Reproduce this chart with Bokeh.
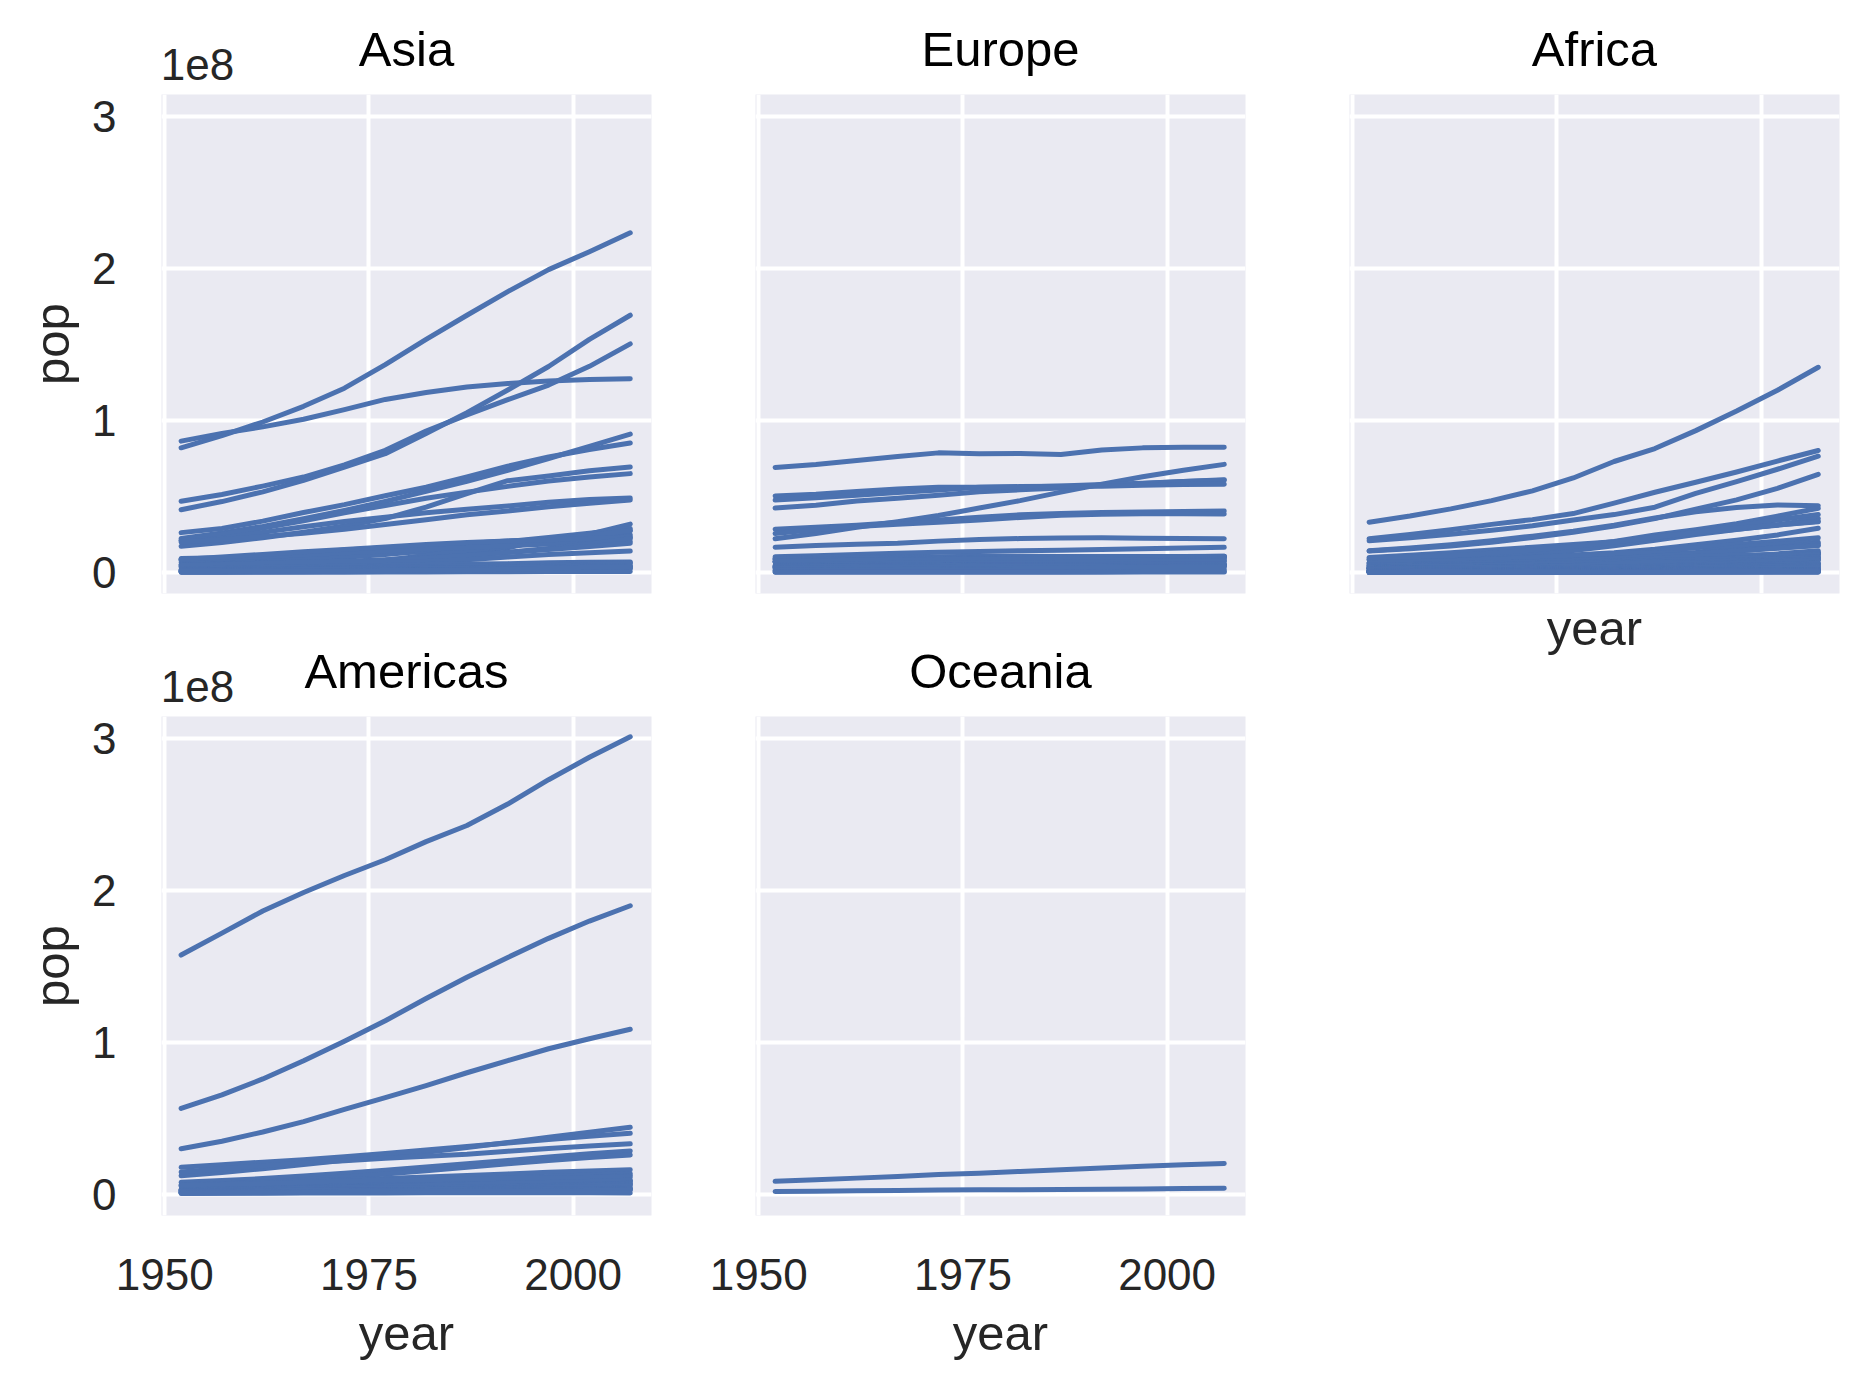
from bokeh.plotting import figure
from bokeh.models import LinearAxis, FixedTicker, ColumnDataSource
from bokeh.layouts import row, column
from bokeh.embed import file_html
from bokeh.resources import INLINE

# ---------------- data (population in millions) ----------------
years = [1952, 1957, 1962, 1967, 1972, 1977, 1982, 1987, 1992, 1997, 2002, 2007]

asia = {
    "Indonesia": [82.05, 90.12, 99.03, 109.34, 121.28, 136.73, 153.34, 169.28, 184.82, 199.28, 211.06, 223.55],
    "Japan": [86.46, 91.56, 95.83, 100.83, 107.19, 113.87, 118.45, 122.09, 124.33, 125.96, 127.07, 127.47],
    "Pakistan": [41.35, 46.68, 53.10, 60.64, 69.33, 78.15, 91.46, 105.19, 120.07, 135.56, 153.40, 169.27],
    "Bangladesh": [46.89, 51.37, 56.84, 62.82, 70.76, 80.43, 93.07, 103.76, 113.70, 123.32, 135.66, 150.45],
    "Philippines": [22.44, 26.07, 30.33, 35.36, 40.85, 46.85, 53.46, 60.02, 67.19, 75.01, 82.99, 91.08],
    "Vietnam": [26.25, 28.99, 33.80, 39.46, 44.66, 50.53, 56.14, 62.83, 69.94, 76.05, 80.91, 85.26],
    "Iran": [17.27, 19.79, 22.87, 26.54, 30.61, 35.48, 43.07, 51.89, 60.40, 63.46, 66.91, 69.45],
    "Thailand": [21.29, 25.04, 29.26, 34.02, 39.28, 44.15, 48.83, 52.91, 56.67, 60.22, 62.81, 65.07],
    "Korea, Rep.": [20.95, 22.61, 26.42, 30.13, 33.51, 36.44, 39.33, 41.62, 43.81, 46.17, 47.97, 49.04],
    "Myanmar": [20.09, 21.73, 23.63, 25.87, 28.47, 31.53, 34.68, 38.03, 40.55, 43.25, 45.60, 47.76],
    "Korea, Dem. Rep.": [8.87, 9.41, 10.92, 12.62, 14.78, 16.33, 17.65, 19.07, 20.71, 21.59, 22.22, 23.30],
    "Afghanistan": [8.43, 9.24, 10.27, 11.54, 13.08, 14.88, 12.88, 13.87, 16.32, 22.23, 25.27, 31.89],
    "Nepal": [9.18, 9.68, 10.33, 11.26, 12.41, 13.93, 15.80, 17.92, 20.33, 23.00, 25.87, 28.90],
    "Malaysia": [6.75, 7.74, 8.91, 10.15, 11.44, 12.85, 14.44, 16.33, 18.32, 20.48, 22.66, 24.82],
    "Iraq": [5.44, 6.25, 7.24, 8.52, 10.06, 11.88, 14.17, 16.54, 17.86, 20.78, 24.00, 27.50],
    "Saudi Arabia": [4.01, 4.42, 4.94, 5.62, 6.47, 8.13, 11.25, 14.62, 16.95, 21.23, 24.50, 27.60],
    "Sri Lanka": [7.98, 9.13, 10.42, 11.74, 13.02, 14.12, 15.41, 16.50, 17.59, 18.70, 19.58, 20.38],
    "Taiwan": [8.55, 10.16, 11.92, 13.65, 15.23, 16.79, 18.50, 19.76, 20.69, 21.63, 22.45, 23.17],
    "Yemen, Rep.": [4.96, 5.50, 6.12, 6.74, 7.41, 8.40, 9.66, 11.22, 13.37, 15.83, 18.70, 22.21],
    "Syria": [3.66, 4.15, 4.83, 5.68, 6.70, 7.93, 9.41, 11.24, 13.22, 15.08, 17.16, 19.31],
    "Cambodia": [4.69, 5.32, 6.08, 6.96, 7.45, 6.98, 7.27, 8.37, 10.15, 11.78, 12.93, 14.13],
    "Hong Kong": [2.13, 2.74, 3.31, 3.72, 4.12, 4.58, 5.26, 5.58, 5.83, 6.50, 6.76, 6.98],
    "Israel": [1.62, 1.94, 2.31, 2.69, 3.10, 3.50, 3.86, 4.17, 4.94, 5.53, 6.03, 6.43],
    "Jordan": [0.61, 0.75, 0.93, 1.26, 1.61, 1.94, 2.35, 2.82, 3.87, 4.53, 5.31, 6.05],
    "Lebanon": [1.44, 1.65, 1.89, 2.19, 2.68, 3.12, 3.09, 3.00, 3.22, 3.43, 3.68, 3.92],
    "Singapore": [1.13, 1.45, 1.75, 1.98, 2.15, 2.33, 2.65, 2.79, 3.24, 3.80, 4.20, 4.55],
    "Mongolia": [0.80, 0.88, 1.01, 1.15, 1.32, 1.53, 1.76, 2.02, 2.31, 2.49, 2.67, 2.87],
    "Kuwait": [0.16, 0.21, 0.36, 0.57, 0.84, 1.14, 1.50, 1.89, 1.42, 1.77, 2.11, 2.51],
    "Oman": [0.51, 0.56, 0.63, 0.71, 0.83, 1.00, 1.30, 1.59, 1.92, 2.28, 2.71, 3.20],
    "Bahrain": [0.12, 0.14, 0.17, 0.20, 0.23, 0.30, 0.38, 0.45, 0.53, 0.60, 0.66, 0.71],
    "West Bank and Gaza": [1.03, 1.07, 1.13, 1.14, 1.09, 1.26, 1.43, 1.69, 2.10, 2.83, 3.39, 4.02],
}

europe = {
    "Germany": [69.15, 71.02, 73.74, 76.37, 78.72, 78.16, 78.34, 77.72, 80.60, 82.01, 82.35, 82.40],
    "Turkey": [22.24, 25.67, 29.79, 33.41, 37.49, 42.40, 47.33, 52.88, 58.18, 63.05, 67.31, 71.16],
    "France": [42.46, 44.31, 47.12, 48.90, 50.84, 53.17, 54.43, 55.63, 57.37, 58.62, 59.93, 61.08],
    "United Kingdom": [50.43, 51.43, 53.29, 54.96, 56.08, 56.18, 56.34, 56.98, 57.87, 58.81, 59.91, 60.78],
    "Italy": [47.67, 49.18, 50.84, 52.67, 54.37, 56.06, 56.54, 56.73, 56.84, 57.48, 57.93, 58.15],
    "Spain": [28.55, 29.84, 31.16, 32.85, 34.51, 36.44, 37.98, 38.88, 39.55, 39.86, 40.15, 40.45],
    "Poland": [25.73, 28.24, 30.33, 31.79, 33.04, 34.62, 36.23, 37.74, 38.37, 38.65, 38.63, 38.52],
    "Romania": [16.63, 17.83, 18.68, 19.28, 20.66, 21.66, 22.36, 22.69, 22.80, 22.56, 22.40, 22.28],
    "Netherlands": [10.38, 11.03, 11.81, 12.60, 13.33, 13.85, 14.31, 14.67, 15.17, 15.60, 16.12, 16.57],
    "Czech Republic": [9.13, 9.51, 9.62, 9.84, 9.86, 10.16, 10.30, 10.31, 10.32, 10.30, 10.26, 10.23],
    "Hungary": [9.50, 9.84, 10.06, 10.22, 10.39, 10.64, 10.71, 10.61, 10.35, 10.24, 10.08, 9.96],
    "Portugal": [8.53, 8.82, 9.02, 9.10, 8.97, 9.66, 9.86, 9.92, 9.93, 10.16, 10.43, 10.64],
    "Belgium": [8.73, 8.99, 9.22, 9.56, 9.71, 9.82, 9.86, 9.87, 10.05, 10.20, 10.31, 10.39],
    "Greece": [7.73, 8.10, 8.45, 8.72, 8.89, 9.31, 9.79, 9.97, 10.33, 10.50, 10.60, 10.71],
    "Serbia": [6.86, 7.27, 7.62, 7.97, 8.31, 8.69, 9.03, 9.23, 9.83, 10.34, 10.11, 10.15],
    "Sweden": [7.12, 7.36, 7.56, 7.87, 8.12, 8.25, 8.33, 8.42, 8.72, 8.90, 8.95, 9.03],
    "Austria": [6.93, 6.97, 7.13, 7.38, 7.54, 7.57, 7.57, 7.58, 7.91, 8.07, 8.15, 8.20],
    "Bulgaria": [7.27, 7.65, 8.01, 8.31, 8.58, 8.80, 8.89, 8.97, 8.66, 8.07, 7.66, 7.32],
    "Switzerland": [4.82, 5.13, 5.67, 6.06, 6.40, 6.32, 6.47, 6.65, 6.99, 7.19, 7.36, 7.55],
    "Denmark": [4.33, 4.49, 4.65, 4.84, 4.99, 5.09, 5.12, 5.13, 5.17, 5.28, 5.37, 5.47],
    "Slovak Republic": [3.56, 3.84, 4.24, 4.44, 4.59, 4.83, 4.99, 5.04, 5.26, 5.38, 5.41, 5.45],
    "Finland": [4.09, 4.32, 4.49, 4.61, 4.64, 4.74, 4.83, 4.93, 5.04, 5.13, 5.19, 5.24],
    "Norway": [3.33, 3.49, 3.64, 3.79, 3.93, 4.04, 4.11, 4.19, 4.29, 4.41, 4.54, 4.63],
    "Croatia": [3.88, 3.99, 4.08, 4.17, 4.23, 4.32, 4.41, 4.48, 4.49, 4.44, 4.48, 4.49],
    "Ireland": [2.95, 2.88, 2.83, 2.90, 3.02, 3.27, 3.48, 3.54, 3.56, 3.67, 3.88, 4.11],
    "Bosnia and Herzegovina": [2.79, 3.08, 3.35, 3.59, 3.82, 4.09, 4.17, 4.31, 4.26, 3.61, 4.17, 4.55],
    "Albania": [1.28, 1.48, 1.73, 1.98, 2.26, 2.51, 2.78, 3.08, 3.33, 3.43, 3.51, 3.60],
    "Slovenia": [1.49, 1.53, 1.58, 1.65, 1.74, 1.86, 1.95, 1.99, 2.00, 2.01, 2.01, 2.01],
    "Montenegro": [0.41, 0.44, 0.47, 0.50, 0.53, 0.56, 0.56, 0.57, 0.62, 0.64, 0.72, 0.68],
    "Iceland": [0.15, 0.17, 0.18, 0.20, 0.21, 0.22, 0.23, 0.24, 0.26, 0.27, 0.29, 0.30],
}

africa = {
    "Nigeria": [33.12, 37.17, 41.87, 47.29, 53.74, 62.21, 73.04, 81.55, 93.36, 106.21, 119.90, 135.03],
    "Egypt": [22.22, 25.01, 28.17, 31.68, 34.81, 38.78, 45.68, 52.80, 59.40, 66.13, 73.31, 80.26],
    "Ethiopia": [20.86, 22.82, 25.15, 27.86, 30.77, 34.62, 38.11, 42.99, 52.09, 59.86, 67.95, 76.51],
    "Congo, Dem. Rep.": [14.10, 15.58, 17.49, 19.94, 23.01, 26.48, 30.65, 35.48, 41.67, 47.80, 55.38, 64.61],
    "South Africa": [14.26, 16.15, 18.36, 20.99, 23.94, 27.13, 31.14, 35.93, 39.96, 42.84, 44.43, 43.99],
    "Sudan": [8.50, 9.75, 11.18, 12.72, 14.60, 17.10, 20.37, 24.73, 28.23, 32.16, 37.09, 42.29],
    "Tanzania": [8.32, 9.45, 10.86, 12.61, 14.71, 17.13, 19.84, 23.04, 26.61, 30.69, 34.59, 38.14],
    "Kenya": [6.46, 7.45, 8.68, 10.19, 12.04, 14.50, 17.66, 21.20, 25.02, 28.26, 31.39, 35.61],
    "Morocco": [9.94, 11.41, 13.06, 14.77, 16.66, 18.40, 20.20, 22.99, 25.80, 28.53, 31.17, 33.76],
    "Algeria": [9.28, 10.27, 11.00, 12.76, 14.76, 17.15, 20.03, 23.25, 26.30, 29.07, 31.29, 33.33],
    "Uganda": [5.82, 6.68, 7.69, 8.90, 10.19, 11.46, 12.94, 15.28, 18.25, 21.21, 24.74, 29.17],
    "Ghana": [5.58, 6.39, 7.36, 8.49, 9.35, 10.54, 11.40, 14.17, 16.28, 18.42, 20.55, 22.87],
    "Mozambique": [6.45, 7.04, 7.79, 8.68, 9.81, 11.13, 12.59, 12.89, 13.16, 16.60, 18.47, 19.95],
    "Madagascar": [4.76, 5.18, 5.70, 6.33, 7.08, 8.01, 9.17, 10.57, 12.21, 14.17, 16.47, 19.17],
    "Cote d'Ivoire": [2.98, 3.30, 3.83, 4.74, 6.07, 7.46, 9.03, 10.76, 12.77, 14.63, 16.25, 18.01],
    "Cameroon": [5.01, 5.36, 5.79, 6.34, 7.02, 7.96, 9.25, 10.78, 12.47, 14.20, 15.93, 17.70],
    "Angola": [4.23, 4.56, 4.83, 5.25, 5.89, 6.16, 7.02, 7.87, 8.74, 9.88, 10.87, 12.42],
    "Burkina Faso": [4.47, 4.71, 4.92, 5.13, 5.43, 5.89, 6.63, 7.59, 8.88, 10.35, 12.25, 14.33],
    "Malawi": [2.92, 3.22, 3.63, 4.15, 4.73, 5.64, 6.50, 7.82, 10.01, 10.42, 11.82, 13.33],
    "Mali": [3.84, 4.03, 4.24, 4.57, 5.00, 5.48, 6.16, 7.63, 8.42, 9.38, 10.58, 12.03],
    "Niger": [3.38, 3.69, 4.08, 4.53, 5.06, 5.68, 6.44, 7.33, 8.39, 9.67, 11.14, 12.89],
    "Zimbabwe": [3.08, 3.65, 4.28, 4.99, 5.86, 6.64, 7.64, 9.22, 10.70, 11.40, 11.93, 12.31],
    "Senegal": [2.76, 3.05, 3.43, 3.97, 4.59, 5.26, 6.15, 7.17, 8.31, 9.54, 10.87, 12.27],
    "Zambia": [2.67, 3.02, 3.42, 3.90, 4.51, 5.22, 6.10, 7.27, 8.38, 9.42, 10.60, 11.75],
    "Tunisia": [3.65, 3.95, 4.29, 4.79, 5.30, 6.01, 6.73, 7.72, 8.52, 9.23, 9.77, 10.28],
    "Chad": [2.68, 2.89, 3.15, 3.50, 3.90, 4.39, 4.88, 5.49, 6.43, 7.56, 8.84, 10.24],
    "Guinea": [2.66, 2.88, 3.14, 3.45, 3.81, 4.23, 4.71, 5.65, 6.99, 8.05, 8.81, 9.95],
    "Rwanda": [2.53, 2.82, 3.05, 3.45, 3.99, 4.66, 5.51, 6.35, 7.29, 7.21, 7.85, 8.86],
    "Burundi": [2.45, 2.67, 2.96, 3.33, 3.53, 3.83, 4.58, 5.13, 5.81, 6.12, 7.02, 8.39],
    "Somalia": [2.53, 2.78, 3.08, 3.43, 3.84, 4.35, 5.83, 6.92, 6.10, 6.63, 7.75, 9.12],
    "Benin": [1.74, 1.93, 2.15, 2.43, 2.76, 3.17, 3.64, 4.24, 4.98, 6.07, 7.03, 8.08],
    "Libya": [1.02, 1.15, 1.32, 1.56, 2.03, 2.52, 3.09, 3.54, 4.36, 4.76, 5.37, 6.04],
    "Togo": [1.22, 1.36, 1.53, 1.74, 2.06, 2.31, 2.64, 3.15, 3.75, 4.32, 4.98, 5.70],
    "Sierra Leone": [2.14, 2.30, 2.47, 2.66, 2.88, 3.14, 3.46, 3.87, 4.26, 4.58, 5.36, 6.14],
    "Eritrea": [1.44, 1.54, 1.67, 1.82, 2.26, 2.51, 2.64, 2.92, 3.67, 4.06, 4.41, 4.91],
    "Central African Republic": [1.29, 1.39, 1.52, 1.73, 1.93, 2.17, 2.48, 2.84, 3.27, 3.70, 4.05, 4.37],
    "Liberia": [0.86, 0.98, 1.11, 1.28, 1.48, 1.70, 1.96, 2.27, 1.91, 2.20, 2.81, 3.19],
    "Congo, Rep.": [0.85, 0.94, 1.05, 1.18, 1.34, 1.54, 1.77, 2.06, 2.41, 2.80, 3.33, 3.80],
    "Mauritania": [1.02, 1.08, 1.15, 1.23, 1.33, 1.46, 1.62, 1.84, 2.12, 2.44, 2.83, 3.27],
    "Lesotho": [0.75, 0.81, 0.89, 0.97, 1.12, 1.25, 1.35, 1.60, 1.80, 1.98, 2.05, 2.01],
    "Namibia": [0.49, 0.56, 0.62, 0.71, 0.82, 0.98, 1.10, 1.28, 1.55, 1.77, 1.97, 2.06],
    "Botswana": [0.44, 0.47, 0.47, 0.55, 0.69, 0.78, 0.97, 1.15, 1.34, 1.54, 1.63, 1.64],
    "Gambia": [0.28, 0.32, 0.37, 0.44, 0.52, 0.61, 0.72, 0.85, 1.03, 1.24, 1.46, 1.69],
    "Guinea-Bissau": [0.58, 0.60, 0.63, 0.60, 0.63, 0.75, 0.83, 0.93, 1.05, 1.19, 1.33, 1.47],
    "Gabon": [0.42, 0.43, 0.46, 0.49, 0.54, 0.71, 0.75, 0.88, 0.99, 1.13, 1.30, 1.45],
    "Mauritius": [0.52, 0.61, 0.70, 0.79, 0.85, 0.91, 0.99, 1.04, 1.10, 1.15, 1.20, 1.25],
    "Swaziland": [0.29, 0.33, 0.37, 0.42, 0.48, 0.55, 0.65, 0.78, 0.96, 1.05, 1.13, 1.13],
    "Comoros": [0.15, 0.17, 0.19, 0.22, 0.25, 0.30, 0.35, 0.40, 0.45, 0.53, 0.61, 0.71],
    "Djibouti": [0.06, 0.07, 0.09, 0.13, 0.18, 0.23, 0.31, 0.35, 0.38, 0.42, 0.45, 0.50],
    "Equatorial Guinea": [0.22, 0.23, 0.24, 0.26, 0.28, 0.19, 0.26, 0.34, 0.39, 0.44, 0.50, 0.55],
    "Reunion": [0.26, 0.31, 0.36, 0.41, 0.46, 0.49, 0.52, 0.56, 0.62, 0.68, 0.74, 0.80],
    "Sao Tome and Principe": [0.06, 0.06, 0.07, 0.07, 0.08, 0.09, 0.10, 0.11, 0.13, 0.15, 0.17, 0.20],
}

americas = {
    "United States": [157.55, 171.98, 186.54, 198.71, 209.90, 220.24, 232.19, 242.80, 256.89, 272.91, 287.68, 301.14],
    "Brazil": [56.60, 65.55, 76.04, 88.05, 100.84, 114.31, 128.96, 142.94, 155.98, 168.55, 179.91, 190.01],
    "Mexico": [30.14, 35.02, 41.12, 47.99, 55.98, 63.76, 71.64, 80.12, 88.11, 95.90, 102.48, 108.70],
    "Colombia": [12.35, 14.49, 17.01, 19.76, 22.54, 25.09, 27.76, 30.96, 34.20, 37.66, 41.01, 44.23],
    "Argentina": [17.88, 19.61, 21.28, 22.93, 24.78, 26.98, 29.34, 31.62, 33.96, 36.20, 38.33, 40.30],
    "Canada": [14.79, 17.01, 18.99, 20.82, 22.28, 23.80, 25.20, 26.55, 28.52, 30.31, 31.90, 33.39],
    "Peru": [8.03, 9.15, 10.52, 12.13, 13.95, 15.99, 18.13, 20.20, 22.43, 24.75, 26.77, 28.67],
    "Venezuela": [5.44, 6.70, 8.14, 9.71, 11.52, 13.50, 15.62, 17.91, 20.27, 22.37, 24.29, 26.08],
    "Chile": [6.38, 7.05, 7.96, 8.86, 9.72, 10.60, 11.49, 12.46, 13.57, 14.60, 15.50, 16.28],
    "Ecuador": [3.55, 4.06, 4.68, 5.43, 6.30, 7.22, 8.37, 9.55, 10.75, 11.91, 12.92, 13.76],
    "Guatemala": [3.15, 3.64, 4.21, 4.69, 5.15, 5.70, 6.40, 7.33, 8.49, 9.80, 11.18, 12.57],
    "Cuba": [6.01, 6.64, 7.25, 8.14, 8.83, 9.54, 9.79, 10.24, 10.72, 10.98, 11.23, 11.42],
    "Bolivia": [2.88, 3.21, 3.59, 4.04, 4.57, 5.08, 5.64, 6.16, 6.89, 7.69, 8.45, 9.12],
    "Haiti": [3.20, 3.51, 3.88, 4.32, 4.70, 4.91, 5.20, 5.76, 6.33, 6.91, 7.61, 8.50],
    "Dominican Republic": [2.49, 2.92, 3.45, 4.05, 4.67, 5.30, 5.97, 6.66, 7.35, 7.99, 8.65, 9.32],
    "Honduras": [1.52, 1.77, 2.09, 2.50, 2.95, 3.06, 3.67, 4.37, 5.08, 5.87, 6.68, 7.48],
    "El Salvador": [2.04, 2.36, 2.75, 3.23, 3.79, 4.28, 4.47, 4.84, 5.27, 5.78, 6.35, 6.94],
    "Paraguay": [1.56, 1.77, 2.01, 2.29, 2.61, 2.98, 3.37, 3.89, 4.48, 5.15, 5.88, 6.67],
    "Nicaragua": [1.17, 1.36, 1.59, 1.87, 2.18, 2.55, 2.98, 3.34, 4.02, 4.61, 5.15, 5.68],
    "Costa Rica": [0.93, 1.11, 1.35, 1.59, 1.83, 2.05, 2.42, 2.80, 3.17, 3.52, 3.83, 4.13],
    "Puerto Rico": [2.23, 2.26, 2.45, 2.65, 2.85, 3.08, 3.28, 3.44, 3.59, 3.76, 3.86, 3.94],
    "Uruguay": [2.25, 2.42, 2.56, 2.75, 2.83, 2.87, 2.95, 3.05, 3.15, 3.28, 3.36, 3.45],
    "Panama": [0.94, 1.06, 1.22, 1.41, 1.62, 1.84, 2.04, 2.25, 2.48, 2.73, 2.99, 3.24],
    "Jamaica": [1.43, 1.54, 1.67, 1.86, 1.99, 2.16, 2.30, 2.33, 2.38, 2.53, 2.66, 2.78],
    "Trinidad and Tobago": [0.66, 0.76, 0.89, 0.96, 0.98, 1.04, 1.12, 1.19, 1.18, 1.14, 1.10, 1.06],
}

oceania = {
    "Australia": [8.69, 9.71, 10.79, 11.87, 13.18, 14.07, 15.18, 16.26, 17.48, 18.57, 19.55, 20.43],
    "New Zealand": [1.99, 2.14, 2.49, 2.73, 2.93, 3.16, 3.21, 3.32, 3.44, 3.68, 3.91, 4.12],
}

x_ticks = [1950, 1975, 2000]
y_ticks = [0, 1, 2, 3]          # in units of 1e8
scale_label = "1e8"

# ---------------- style ----------------
FONT = "Liberation Sans"
BG = "#EAEAF2"
LINE = "#4C72B0"
TXT = "#262626"
X0, X1 = 1949.6, 2009.6
Y0, Y1 = -0.138, 3.145
FW, FH = 490, 499
SCALE_POS = 1954   # x position (data) of the centred "1e8" offset text


def style_axis(ax, standoff, label_standoff, tick_size="44px", label_size="49px",
               label_color=TXT):
    ax.major_tick_line_color = None
    ax.minor_tick_line_color = None
    ax.major_tick_out = 0
    ax.major_tick_in = 0
    ax.minor_tick_out = 0
    ax.minor_tick_in = 0
    ax.axis_line_color = None
    ax.major_label_text_font = FONT
    ax.major_label_text_font_size = tick_size
    ax.major_label_text_color = TXT
    ax.major_label_standoff = standoff
    ax.axis_label_text_font = FONT
    ax.axis_label_text_font_size = label_size
    ax.axis_label_text_font_style = "normal"
    ax.axis_label_text_color = label_color
    ax.axis_label_standoff = label_standoff


def panel(name, data, left, right, top, bottom, yaxis=False, xaxis=False, xlabel_only=False):
    p = figure(frame_width=FW, frame_height=FH, x_range=(X0, X1), y_range=(Y0, Y1),
               x_axis_location=None, y_axis_location=None,
               output_backend="svg", toolbar_location=None,
               min_border_left=left, min_border_right=right,
               min_border_top=top, min_border_bottom=bottom)
    p.background_fill_color = BG
    p.border_fill_color = "white"
    p.outline_line_color = None
    p.xgrid.ticker = FixedTicker(ticks=x_ticks)
    p.ygrid.ticker = FixedTicker(ticks=y_ticks)
    for g in (p.xgrid, p.ygrid):
        g.grid_line_color = "white"
        g.grid_line_width = 4

    names = list(data.keys())
    src = ColumnDataSource(dict(
        xs=[years for _ in names],
        ys=[[v / 100.0 for v in data[n]] for n in names],
        country=names,
    ))
    p.multi_line("xs", "ys", source=src, line_color=LINE, line_width=5,
                 line_cap="round", line_join="round")

    # facet title (axis label of a top axis) and the "1e8" offset text (its tick label)
    top_ax = LinearAxis(ticker=FixedTicker(ticks=[SCALE_POS]),
                        major_label_overrides={SCALE_POS: scale_label if yaxis else " "},
                        axis_label=name)
    if yaxis:
        style_axis(top_ax, 15, -30, label_color="#000000")
    else:
        style_axis(top_ax, 7, -40, label_color="#000000")
    p.add_layout(top_ax, "above")

    if yaxis:
        ax = LinearAxis(ticker=FixedTicker(ticks=y_ticks), axis_label="pop")
        style_axis(ax, 45, 10)
        p.add_layout(ax, "left")
    if xaxis:
        ax = LinearAxis(ticker=FixedTicker(ticks=x_ticks), axis_label="year")
        style_axis(ax, 43, 13)
        p.add_layout(ax, "below")
    if xlabel_only:
        ax = LinearAxis(ticker=FixedTicker(ticks=[]), axis_label="year")
        style_axis(ax, 0, 7)
        p.add_layout(ax, "below")
    return p


p_asia = panel("Asia", asia, 161, 17, 94, 43, yaxis=True)
p_amer = panel("Americas", americas, 161, 17, 80, 165, yaxis=True, xaxis=True)
p_eur = panel("Europe", europe, 87, 53, 94, 43)
p_oce = panel("Oceania", oceania, 87, 53, 80, 165, xaxis=True)
p_afr = panel("Africa", africa, 51, 16, 94, 80, xlabel_only=True)

layout = row(column(p_asia, p_amer), column(p_eur, p_oce), column(p_afr))

open("out.html", "w").write(file_html(layout, INLINE))
